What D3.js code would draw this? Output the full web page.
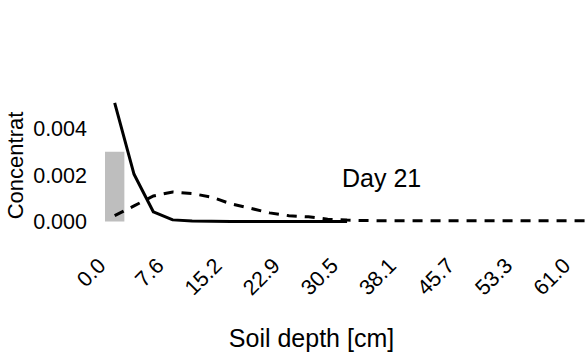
<!DOCTYPE html>
<html>
<head>
<meta charset="utf-8">
<script src="https://cdn.jsdelivr.net/npm/d3@7"></script>
<style>
  body { margin: 0; background: #fff; }
  text { font-family: 'Liberation Sans', Arial, sans-serif; fill: #000; }
</style>
</head>
<body>
<div id="chart"></div>
<script>
// layer midpoints [cm] (1 inch layers)
const depthSolid = [1.27, 3.81, 6.35, 8.89, 11.43, 13.97, 16.51, 19.05, 21.59, 24.13, 26.67, 29.21, 31.75];
const concSolid = [0.0051, 0.00203, 0.00041, 0.00007, 0.00002, 0.00001, 0, 0, 0, 0, 0, 0, 0];

const depthDashed = [1.27, 3.81, 6.35, 8.89, 11.43, 13.97, 16.51, 19.05, 21.59, 24.13, 26.67, 29.21, 31.75,
  34.29, 36.83, 39.37, 41.91, 44.45, 46.99, 49.53, 52.07, 54.61, 57.15, 59.69, 62.23, 64.77];
const concDashed = [0.00025, 0.00067, 0.0011, 0.00127, 0.0012, 0.00105, 0.00076, 0.00057, 0.00037, 0.00025,
  0.0002, 0.0001, 0.00006, 0.00004, 0.00003, 0.00003, 0.00003, 0.00003, 0.00003, 0.00003, 0.00003,
  0.00003, 0.00003, 0.00003, 0.00003, 0.00003];

// applied layer
const barDepth = [0, 2.54];
const barConc = 0.003;

const xTicks = [0, 7.62, 15.24, 22.86, 30.48, 38.1, 45.72, 53.34, 60.96];
const yTicks = [0, 0.002, 0.004];

const width = 586;
const height = 352;

const svg = d3.select('#chart')
  .append('svg')
  .attr('width', width)
  .attr('height', height);

const x = d3.scaleLinear().domain([0, 60.96]).range([105, 569.8]);
const y = d3.scaleLinear().domain([0, 0.004]).range([221.5, 128.5]);

// grey bar
svg.append('rect')
  .attr('x', x(barDepth[0]))
  .attr('y', y(barConc))
  .attr('width', x(barDepth[1]) - x(barDepth[0]))
  .attr('height', y(0) - y(barConc))
  .attr('fill', '#bebebe');

const line = d3.line()
  .x((d) => x(d[0]))
  .y((d) => y(d[1]));

svg.append('path')
  .datum(d3.zip(depthDashed, concDashed))
  .attr('d', line)
  .attr('fill', 'none')
  .attr('stroke', '#000')
  .attr('stroke-width', 3)
  .attr('stroke-dasharray', '10,8');

svg.append('path')
  .datum(d3.zip(depthSolid, concSolid))
  .attr('d', line)
  .attr('fill', 'none')
  .attr('stroke', '#000')
  .attr('stroke-width', 3)
  .attr('stroke-linejoin', 'round');

// y axis labels, no axis line
svg.append('g')
  .selectAll('text')
  .data(yTicks)
  .enter()
  .append('text')
  .attr('x', 87)
  .attr('y', (d) => y(d))
  .attr('dy', '0.36em')
  .attr('text-anchor', 'end')
  .style('font-size', '21.5px')
  .text((d) => d3.format('.3f')(d));

// x axis labels rotated 45deg
svg.append('g')
  .selectAll('text')
  .data(xTicks)
  .enter()
  .append('text')
  .attr('transform', (d) => `translate(${x(d) + 2},267) rotate(-45)`)
  .attr('text-anchor', 'end')
  .style('font-size', '21.5px')
  .text((d) => d3.format('.1f')(d));

svg.append('text')
  .attr('transform', 'translate(22.5,165.5) rotate(-90)')
  .attr('text-anchor', 'middle')
  .style('font-size', '22px')
  .text('Concentrat');

svg.append('text')
  .attr('x', 311.5)
  .attr('y', 346.5)
  .attr('text-anchor', 'middle')
  .style('font-size', '25px')
  .text('Soil depth [cm]');

svg.append('text')
  .attr('x', 342)
  .attr('y', 187)
  .style('font-size', '25px')
  .text('Day 21');
</script>
</body>
</html>
